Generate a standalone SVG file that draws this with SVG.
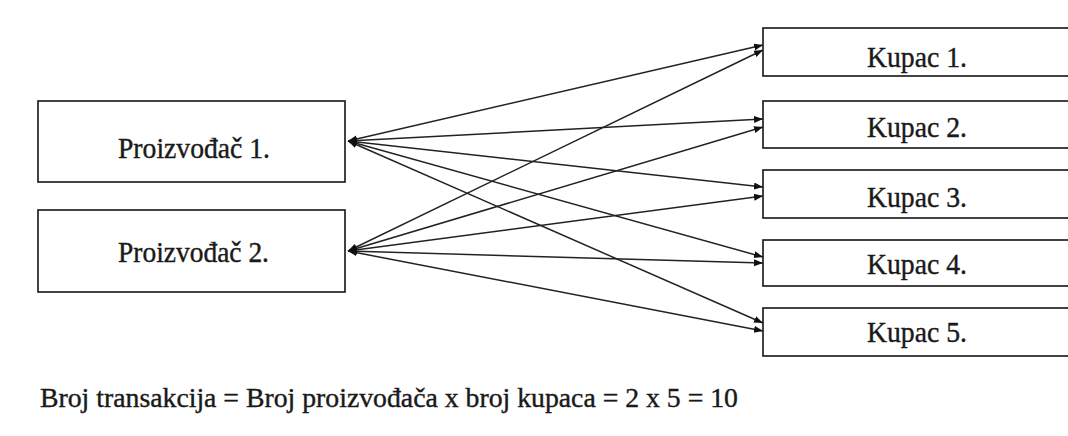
<svg xmlns="http://www.w3.org/2000/svg" width="1068" height="436" viewBox="0 0 1068 436">
<style>
.box{fill:#fff;stroke:#222;stroke-width:1.7}
.lbl{font-family:"Liberation Serif","Times New Roman",serif;font-size:30px;fill:#1a1a1a;stroke:#1a1a1a;stroke-width:0.4}
.con line{stroke:#222;stroke-width:1.5;marker-start:url(#ah);marker-end:url(#ah)}
</style>
<defs>
<marker id="ah" markerUnits="userSpaceOnUse" markerWidth="10" markerHeight="8" refX="9" refY="3.5" orient="auto-start-reverse">
<path d="M0,0 L9,3.5 L0,7 z" fill="#111"/>
</marker>
</defs>
<rect width="1068" height="436" fill="#fff"/>
<g id="p1"><rect class="box" x="38" y="101" width="307" height="81"/><text class="lbl" x="118" y="158" textLength="152" lengthAdjust="spacingAndGlyphs">Proizvođač 1.</text></g>
<g id="p2"><rect class="box" x="38" y="210" width="307" height="82"/><text class="lbl" x="118" y="262" textLength="151" lengthAdjust="spacingAndGlyphs">Proizvođač 2.</text></g>
<g id="k1"><rect class="box" x="763" y="28" width="320" height="48"/><text class="lbl" x="867" y="67" textLength="100" lengthAdjust="spacingAndGlyphs">Kupac 1.</text></g>
<g id="k2"><rect class="box" x="763" y="101" width="320" height="47"/><text class="lbl" x="867" y="137" textLength="100" lengthAdjust="spacingAndGlyphs">Kupac 2.</text></g>
<g id="k3"><rect class="box" x="763" y="170" width="320" height="48"/><text class="lbl" x="867" y="207" textLength="100" lengthAdjust="spacingAndGlyphs">Kupac 3.</text></g>
<g id="k4"><rect class="box" x="763" y="240" width="320" height="46"/><text class="lbl" x="867" y="274" textLength="100" lengthAdjust="spacingAndGlyphs">Kupac 4.</text></g>
<g id="k5"><rect class="box" x="763" y="308" width="320" height="48"/><text class="lbl" x="867" y="342" textLength="100" lengthAdjust="spacingAndGlyphs">Kupac 5.</text></g>
<g class="con" id="connectors">
<line x1="348" y1="141" x2="763" y2="45"/>
<line x1="348" y1="141" x2="763" y2="119"/>
<line x1="348" y1="141" x2="763" y2="187"/>
<line x1="348" y1="141" x2="763" y2="257"/>
<line x1="348" y1="141" x2="763" y2="323"/>
<line x1="348" y1="251" x2="763" y2="50"/>
<line x1="348" y1="251" x2="763" y2="127"/>
<line x1="348" y1="251" x2="763" y2="196"/>
<line x1="348" y1="251" x2="763" y2="263"/>
<line x1="348" y1="251" x2="763" y2="331"/>
</g>
<text class="lbl" x="40" y="407" style="font-size:28px" textLength="698" lengthAdjust="spacingAndGlyphs">Broj transakcija = Broj proizvođača x broj kupaca = 2 x 5 = 10</text>
</svg>
